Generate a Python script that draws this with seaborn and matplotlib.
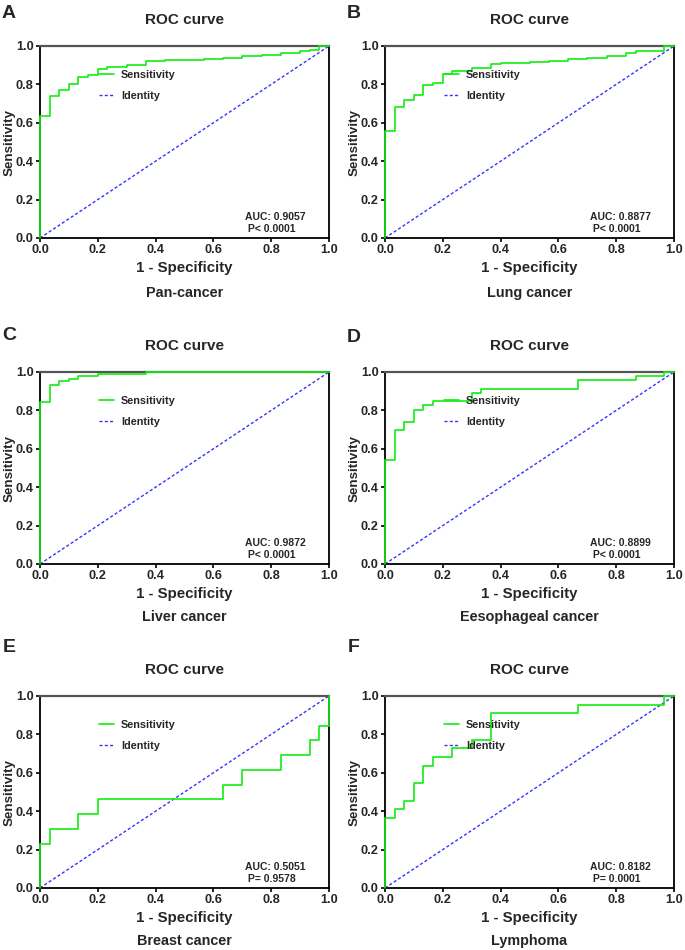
import matplotlib
matplotlib.use("Agg")
import matplotlib.pyplot as plt
import seaborn as sns
import pandas as pd

# ---------------- data ----------------
panel_letters = ["A", "B", "C", "D", "E", "F"]
panel_names = ["Pan-cancer", "Lung cancer", "Liver cancer", "Eesophageal cancer",
               "Breast cancer", "Lymphoma"]
auc_labels = ["AUC: 0.9057", "AUC: 0.8877", "AUC: 0.9872", "AUC: 0.8899",
              "AUC: 0.5051", "AUC: 0.8182"]
p_labels = [" P< 0.0001", " P< 0.0001", " P< 0.0001", " P< 0.0001",
            " P= 0.9578", " P= 0.0001"]

fpr_A = [0, 0, 0.033, 0.067, 0.1, 0.133, 0.167, 0.2, 0.233, 0.3, 0.367, 0.433, 0.5,
         0.567, 0.633, 0.7, 0.767, 0.833, 0.9, 0.933, 0.967, 1.0]
tpr_A = [0, 0.635, 0.74, 0.77, 0.80, 0.84, 0.85, 0.88, 0.89, 0.90, 0.92, 0.925, 0.928,
         0.932, 0.94, 0.947, 0.955, 0.963, 0.972, 0.978, 1.0, 1.0]

fpr_B = [0, 0, 0.033, 0.067, 0.1, 0.133, 0.167, 0.2, 0.233, 0.3, 0.367, 0.4, 0.5,
         0.567, 0.633, 0.7, 0.767, 0.833, 0.867, 0.967, 1.0]
tpr_B = [0, 0.555, 0.68, 0.72, 0.745, 0.795, 0.805, 0.855, 0.872, 0.886, 0.905, 0.91,
         0.915, 0.92, 0.93, 0.94, 0.95, 0.965, 0.975, 1.0, 1.0]

fpr_C = [0, 0, 0.033, 0.067, 0.1, 0.133, 0.2, 0.367, 1.0]
tpr_C = [0, 0.845, 0.93, 0.955, 0.965, 0.98, 0.99, 1.0, 1.0]

fpr_D = [0, 0, 0.033, 0.067, 0.1, 0.133, 0.167, 0.3, 0.333, 0.667, 0.867, 0.967, 1.0]
tpr_D = [0, 0.543, 0.696, 0.739, 0.804, 0.826, 0.848, 0.891, 0.913, 0.957, 0.978, 1.0, 1.0]

fpr_E = [0, 0, 0.033, 0.133, 0.2, 0.633, 0.7, 0.833, 0.933, 0.967, 1.0, 1.0]
tpr_E = [0, 0.231, 0.308, 0.385, 0.462, 0.538, 0.615, 0.692, 0.769, 0.846, 1.0, 1.0]

fpr_F = [0, 0, 0.033, 0.067, 0.1, 0.133, 0.167, 0.233, 0.3, 0.367, 0.667, 0.967, 1.0]
tpr_F = [0, 0.364, 0.409, 0.455, 0.545, 0.636, 0.682, 0.727, 0.773, 0.909, 0.955, 1.0, 1.0]

fprs = [fpr_A, fpr_B, fpr_C, fpr_D, fpr_E, fpr_F]
tprs = [tpr_A, tpr_B, tpr_C, tpr_D, tpr_E, tpr_F]

identity_x = [0.0, 1.0]
identity_y = [0.0, 1.0]
ticks = [0.0, 0.2, 0.4, 0.6, 0.8, 1.0]
tick_labels = ["0.0", "0.2", "0.4", "0.6", "0.8", "1.0"]

# ---------------- style ----------------
sns.set_theme(style="ticks")
plt.rcParams["font.family"] = ["Liberation Sans", "DejaVu Sans"]
plt.rcParams["font.weight"] = "bold"

W, H = 685, 950
fig = plt.figure(figsize=(W / 100, H / 100), dpi=100)

lefts = [40, 385]
tops = [46, 372, 696]
ax_w, ax_h = 289, 192
letter_offsets = [33, 33, 36, 34, 48, 48]

GREEN = "#11ee11"
BLUE = "#3333ff"

for i in range(6):
    row, col = divmod(i, 2)
    l, t = lefts[col], tops[row]
    ax = fig.add_axes([l / W, (H - t - ax_h) / H, ax_w / W, ax_h / H])

    df = pd.DataFrame({"fpr": fprs[i], "tpr": tprs[i]})
    sns.lineplot(data=df, x="fpr", y="tpr", ax=ax, sort=False, estimator=None,
                 drawstyle="steps-post", color=GREEN, lw=1.2, label="Sensitivity",
                 clip_on=False, zorder=3)
    idf = pd.DataFrame({"x": identity_x, "y": identity_y})
    sns.lineplot(data=idf, x="x", y="y", ax=ax, sort=False, estimator=None,
                 color=BLUE, lw=1.0, dashes=False, label="Identity", zorder=2)
    ax.lines[-1].set_dashes((2.2, 1.6))

    ax.set_xlim(0, 1)
    ax.set_ylim(0, 1)
    ax.set_xticks(ticks)
    ax.set_yticks(ticks)
    ax.set_xticklabels(tick_labels, fontsize=9.2, fontweight="bold")
    ax.set_yticklabels(tick_labels, fontsize=9.2, fontweight="bold")
    ax.tick_params(axis="both", direction="out", length=3, width=1.2, color="black",
                   pad=1.5)
    for side in ["left", "bottom", "right"]:
        ax.spines[side].set_color("black")
        ax.spines[side].set_linewidth(1.3)
    ax.spines["top"].set_color("#555555")
    ax.spines["top"].set_linewidth(1.6)
    ax.spines["right"].set_visible(True)
    ax.spines["top"].set_visible(True)

    ax.set_xlabel("")
    ax.set_ylabel("Sensitivity", fontsize=9.6, fontweight="bold", va="center")
    ax.yaxis.set_label_coords(-(40 - 10) / ax_w, 0.5)

    leg = ax.legend(loc="upper left", bbox_to_anchor=(0.205, 0.875), frameon=False,
                    fontsize=7.8, handlelength=1.4, handletextpad=0.6,
                    labelspacing=1.0, borderpad=0, borderaxespad=0)
    for txt in leg.get_texts():
        txt.set_fontweight("bold")
    leg.set_zorder(5)

    ax.text(0.709, 0.11, auc_labels[i], transform=ax.transAxes, fontsize=7.5,
            fontweight="bold", va="center", ha="left")
    ax.text(0.709, 0.047, p_labels[i], transform=ax.transAxes, fontsize=7.5,
            fontweight="bold", va="center", ha="left")

    cx = (l + ax_w / 2) / W
    fig.text(cx, (H - (t - 26)) / H, "ROC curve", ha="center", va="center",
             fontsize=11, fontweight="bold")
    fig.text(cx, (H - (t + ax_h + 30)) / H, "1 - Specificity", ha="center",
             va="center", fontsize=10.8, fontweight="bold")
    sub_off = 55 if row == 0 else 53
    fig.text(cx, (H - (t + ax_h + sub_off)) / H, panel_names[i], ha="center",
             va="center", fontsize=10.4, fontweight="bold")
    fig.text((l - 31) / W, (H - (t - letter_offsets[i])) / H, panel_letters[i],
             ha="center", va="center", fontsize=14, fontweight="bold")

fig.savefig("out.png", dpi=100)
